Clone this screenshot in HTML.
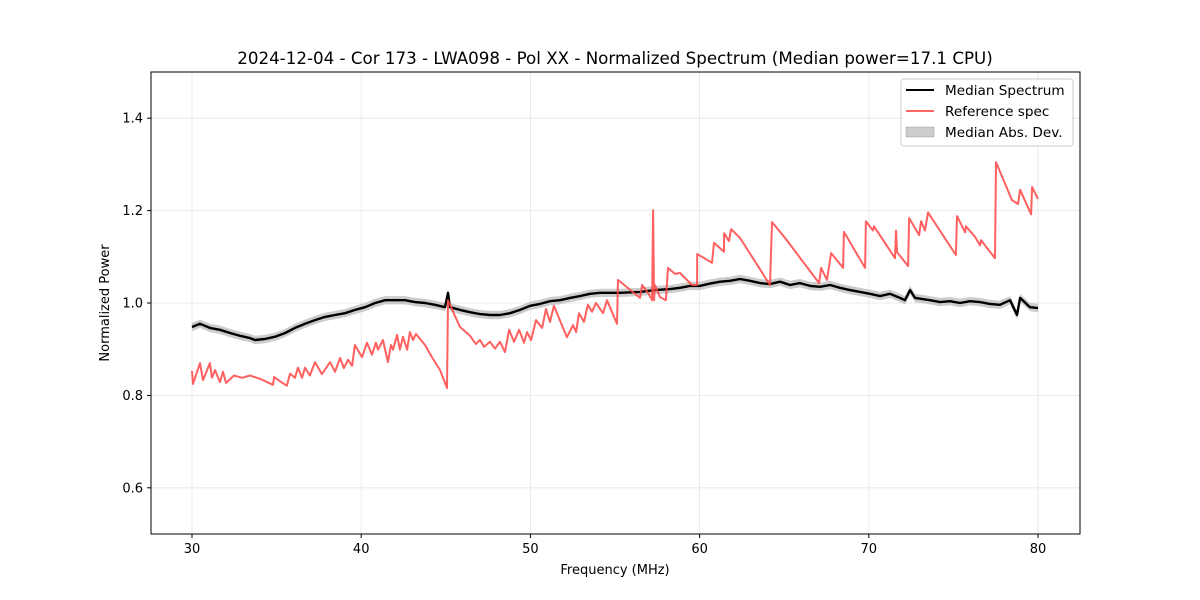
<!DOCTYPE html>
<html><head><meta charset="utf-8"><style>
body{margin:0;background:#fff;}
svg{display:block;font-family:"DejaVu Sans","Liberation Sans",sans-serif;}
</style></head><body>
<svg id="chart" width="1200" height="600" viewBox="0 0 1200 600" xmlns="http://www.w3.org/2000/svg">
<rect width="1200" height="600" fill="#fff"/>
<text x="615" y="64" font-size="16.7" text-anchor="middle" fill="#000">2024-12-04 - Cor 173 - LWA098 - Pol XX - Normalized Spectrum (Median power=17.1 CPU)</text>
<g id="grid"></g>
<g id="marks"></g>
<rect x="151" y="72" width="929" height="462" fill="none" stroke="#000" stroke-width="1"/>
<g id="axes"></g>
<text x="615" y="574" font-size="13" text-anchor="middle">Frequency (MHz)</text>
<text x="109" y="303" font-size="13" text-anchor="middle" transform="rotate(-90 109 303)">Normalized Power</text>
<g>
<rect x="901" y="79" width="172" height="67" rx="3" fill="#fff" fill-opacity="0.8" stroke="#ccc"/>
<line x1="906" y1="90" x2="934" y2="90" stroke="#000" stroke-width="2"/>
<text x="945" y="95" font-size="13.6">Median Spectrum</text>
<line x1="906" y1="111" x2="934" y2="111" stroke="#ff5555" stroke-opacity="0.9" stroke-width="2"/>
<text x="945" y="116" font-size="13.6">Reference spec</text>
<rect x="906" y="127" width="28" height="10" fill="#bbb" fill-opacity="0.75" stroke="#999" stroke-width="0.5"/>
<text x="945" y="137" font-size="13.6">Median Abs. Dev.</text>
</g>
</svg>
<script>
const xTicks=[30,40,50,60,70,80];
const yTicks=[0.6,0.8,1.0,1.2,1.4];
const yTickLabels=["0.6","0.8","1.0","1.2","1.4"];
const medFreq=[30,30.47,31.06,31.65,32.25,32.84,33.43,33.72,34.31,34.91,35.5,36.09,36.68,37.27,37.86,38.45,39.04,39.64,40.23,40.82,41.41,42,42.59,43.18,43.77,44.36,44.95,45.13,45.25,45.84,46.43,47.02,47.61,48.2,48.79,49.39,49.98,50.57,51.16,51.75,52.34,52.93,53.52,54.11,55.3,56.48,57.36,58.25,58.84,59.43,60.02,60.61,61.21,61.8,62.39,62.98,63.57,64.16,64.75,65.34,65.93,66.53,67.12,67.71,68.3,68.89,69.48,70.07,70.66,71.25,71.84,72.14,72.44,72.73,73.62,74.21,74.8,75.39,75.98,76.57,77.16,77.75,78.35,78.76,78.94,79.53,80];
const medVal=[0.948,0.955,0.946,0.942,0.935,0.929,0.924,0.92,0.922,0.927,0.935,0.946,0.955,0.963,0.97,0.974,0.978,0.985,0.991,1.0,1.006,1.006,1.006,1.002,1.0,0.996,0.991,1.022,0.991,0.985,0.98,0.976,0.974,0.974,0.978,0.985,0.994,0.998,1.004,1.006,1.011,1.015,1.02,1.022,1.022,1.024,1.028,1.03,1.033,1.037,1.037,1.042,1.046,1.048,1.052,1.048,1.043,1.041,1.046,1.039,1.043,1.037,1.035,1.039,1.033,1.028,1.024,1.02,1.015,1.02,1.011,1.006,1.028,1.011,1.006,1.002,1.004,1.0,1.004,1.002,0.998,0.996,1.006,0.974,1.011,0.991,0.989];
const madVal=0.009;
const refFreq=[30,30.06,30.47,30.65,31.06,31.18,31.36,31.65,31.83,32.01,32.48,32.96,33.43,34.02,34.79,34.85,35.26,35.61,35.79,36.09,36.26,36.5,36.68,36.97,37.27,37.68,38.16,38.45,38.75,38.98,39.22,39.46,39.63,40.05,40.34,40.64,40.87,40.99,41.29,41.58,41.76,41.88,42.12,42.29,42.47,42.71,42.88,43.06,43.24,43.77,44.18,44.66,45.07,45.13,45.43,45.84,46.43,46.78,47.02,47.26,47.61,47.91,48.2,48.5,48.74,49.03,49.33,49.62,49.8,50.04,50.33,50.69,50.92,51.16,51.39,52.16,52.52,52.7,52.87,53.17,53.4,53.64,53.88,54.29,54.53,55.12,55.18,56.48,56.6,56.95,57.19,57.25,57.31,57.36,57.66,58.01,58.13,58.54,58.84,59.55,59.85,59.86,60.73,60.85,61.44,61.45,61.74,61.86,62.39,64.16,64.28,65.05,67.06,67.18,67.53,67.77,68.48,68.53,69.78,69.83,70.25,70.31,71.55,71.61,71.67,72.32,72.38,72.97,73.09,73.32,73.5,75.15,75.21,75.69,75.74,76.28,76.57,76.63,77.46,77.52,78.46,78.82,78.94,79.59,79.65,80];
const refVal=[0.853,0.825,0.87,0.833,0.87,0.838,0.855,0.829,0.851,0.827,0.843,0.838,0.843,0.836,0.823,0.84,0.829,0.821,0.847,0.838,0.86,0.838,0.86,0.843,0.872,0.846,0.872,0.851,0.881,0.859,0.877,0.864,0.909,0.883,0.914,0.888,0.914,0.899,0.92,0.872,0.909,0.899,0.931,0.899,0.927,0.899,0.937,0.92,0.933,0.909,0.883,0.855,0.816,1.006,0.981,0.948,0.929,0.911,0.92,0.905,0.916,0.901,0.916,0.894,0.942,0.916,0.942,0.914,0.937,0.92,0.963,0.946,0.987,0.959,0.994,0.926,0.952,0.937,0.978,0.959,0.996,0.981,1.0,0.978,1.006,0.955,1.05,1.011,1.039,1.022,1.006,1.201,1.006,1.039,1.013,1.006,1.076,1.063,1.065,1.039,1.039,1.106,1.087,1.13,1.111,1.151,1.134,1.16,1.141,1.039,1.175,1.141,1.043,1.076,1.05,1.108,1.076,1.154,1.076,1.177,1.157,1.166,1.097,1.157,1.11,1.08,1.184,1.147,1.177,1.157,1.196,1.104,1.188,1.153,1.166,1.143,1.125,1.136,1.097,1.305,1.223,1.214,1.245,1.192,1.251,1.225];

const NS="http://www.w3.org/2000/svg";
const X0=151,X1=1080,Y0=72,Y1=534;
function xs(f){return 192+(f-30)*(1038-192)/50;}
function ys(v){return Y1-(v-0.5)*(Y1-Y0)/1.0;}
function mk(tag,attrs,parent){const e=document.createElementNS(NS,tag);for(const k in attrs)e.setAttribute(k,attrs[k]);parent.appendChild(e);return e;}
const grid=document.getElementById('grid'),axes=document.getElementById('axes'),marks=document.getElementById('marks');
xTicks.forEach(t=>{
  const x=xs(t);
  const g=mk('line',{x1:x,x2:x,y1:Y0,y2:Y1,stroke:'#e5e5e5','stroke-width':0.8},grid);
  
  
  mk('line',{x1:x,x2:x,y1:Y1,y2:Y1+4,stroke:'#000'},axes);
  const tx=mk('text',{x:x,y:Y1+19,'font-size':13,'text-anchor':'middle'},axes);
  tx.textContent=t;
  
  
});
yTicks.forEach((t,i)=>{
  const y=ys(t);
  const g=mk('line',{x1:X0,x2:X1,y1:y,y2:y,stroke:'#e5e5e5','stroke-width':0.8},grid);
  
  
  mk('line',{x1:X0-4,x2:X0,y1:y,y2:y,stroke:'#000'},axes);
  const tx=mk('text',{x:X0-8,y:y+4.5,'font-size':13,'text-anchor':'end'},axes);
  tx.textContent=yTickLabels[i];
  
  
});
let up=medFreq.map((f,i)=>xs(f).toFixed(1)+','+ys(medVal[i]+madVal).toFixed(1));
let dn=medFreq.map((f,i)=>xs(f).toFixed(1)+','+ys(medVal[i]-madVal).toFixed(1)).reverse();
const band=mk('polygon',{points:up.concat(dn).join(' '),fill:'#bbb','fill-opacity':0.75},marks);


const med=mk('polyline',{points:medFreq.map((f,i)=>xs(f).toFixed(1)+','+ys(medVal[i]).toFixed(1)).join(' '),fill:'none',stroke:'#000','stroke-width':2.4,'stroke-linejoin':'round'},marks);


const ref=mk('polyline',{points:refFreq.map((f,i)=>xs(f).toFixed(1)+','+ys(refVal[i]).toFixed(1)).join(' '),fill:'none',stroke:'#ff4444','stroke-opacity':0.85,'stroke-width':2,'stroke-linejoin':'round'},marks);


</script>
</body></html>
